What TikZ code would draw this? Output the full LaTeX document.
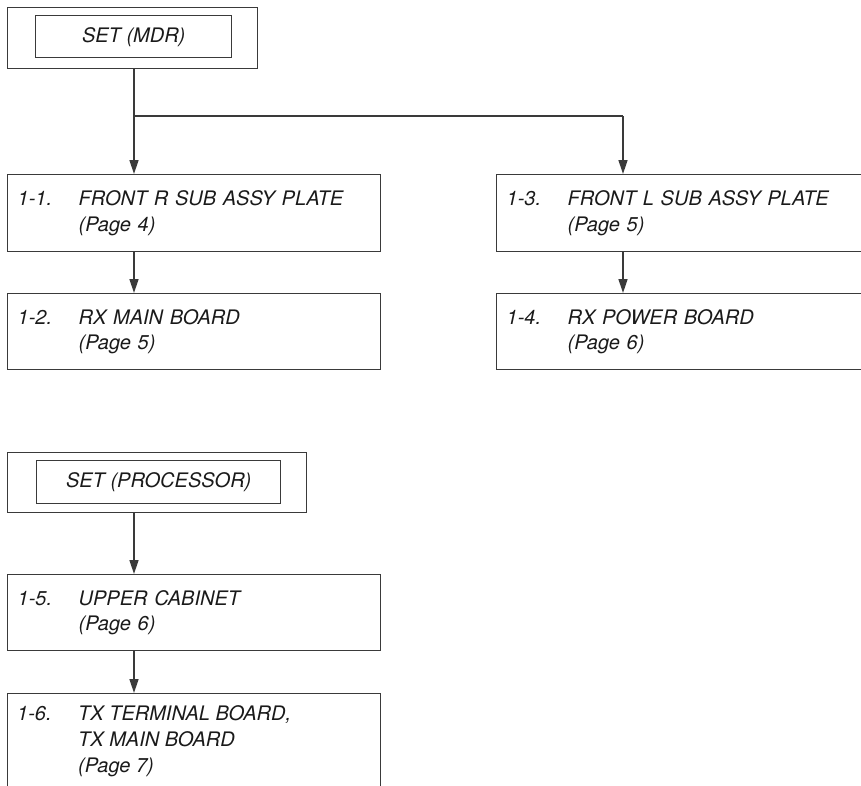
\documentclass[tikz,border=0pt]{standalone}
\usepackage{fontspec}
\setmainfont{TeX Gyre Heros}
\usetikzlibrary{arrows.meta}
\definecolor{ln}{HTML}{3a3a3a}
\definecolor{tx}{HTML}{1a1a1a}
\newcommand{\lbl}[1]{\makebox[61pt][l]{#1}}
\begin{document}
\begin{tikzpicture}[x=1pt,y=-1pt,
  every node/.style={font=\fontsize{20}{25.5}\selectfont\itshape, text=tx},
  frame/.style={draw=ln, line width=1.4pt, rectangle, inner sep=0pt},
  itembox/.style={draw=ln, line width=1.4pt, rectangle, anchor=north west,
     minimum width=373pt, inner xsep=10pt, inner ysep=0pt, text width=353pt, align=left},
  conn/.style={draw=ln, line width=1.4pt},
  arr/.style={conn, -{Triangle[length=14pt,width=9pt]}}]
\clip (0,0) rectangle (861,785);
% top group
\node[frame, minimum width=250pt, minimum height=61pt, anchor=north west] (mdr) at (7,7) {};
\node[frame, minimum width=196pt, minimum height=42pt, anchor=north west] (mdrin) at (35,15) {SET (MDR)};
\node[itembox, minimum height=77pt] (b11) at (7,174) {\lbl{1-1.}FRONT R SUB ASSY PLATE\\\lbl{}(Page 4)};
\node[itembox, minimum height=76pt] (b12) at (7,293) {\lbl{1-2.}RX MAIN BOARD\\\lbl{}(Page 5)};
\node[itembox, minimum height=77pt] (b13) at (496,174) {\lbl{1-3.}FRONT L SUB ASSY PLATE\\\lbl{}(Page 5)};
\node[itembox, minimum height=76pt] (b14) at (496,293) {\lbl{1-4.}RX POWER BOARD\\\lbl{}(Page 6)};
\coordinate (j1) at (134,116);
\coordinate (j2) at (623,116);
\draw[conn] (mdr.south -| j1) -- (j1) -- (j2);
\draw[arr] (j1) -- (j1 |- b11.north);
\draw[arr] (j2) -- (j2 |- b13.north);
\draw[arr] (b11.south -| j1) -- (j1 |- b12.north);
\draw[arr] (b13.south -| j2) -- (j2 |- b14.north);
% bottom group
\node[frame, minimum width=299pt, minimum height=60pt, anchor=north west] (proc) at (7,452) {};
\node[frame, minimum width=244pt, minimum height=43pt, anchor=north west] (procin) at (36,460) {SET (PROCESSOR)};
\node[itembox, minimum height=76pt] (b15) at (7,574) {\lbl{1-5.}UPPER CABINET\\\lbl{}(Page 6)};
\node[itembox, minimum height=120pt, text height=0pt] (b16) at (7,693) {};
\node[anchor=north west, inner sep=0pt, align=left, font=\fontsize{20}{26}\selectfont\itshape] (t16) at (17,705) {\lbl{1-6.}TX TERMINAL BOARD,\\\lbl{}TX MAIN BOARD\\\lbl{}(Page 7)};
\draw[arr] (proc.south -| j1) -- (j1 |- b15.north);
\draw[arr] (b15.south -| j1) -- (j1 |- b16.north);
\end{tikzpicture}
\end{document}
